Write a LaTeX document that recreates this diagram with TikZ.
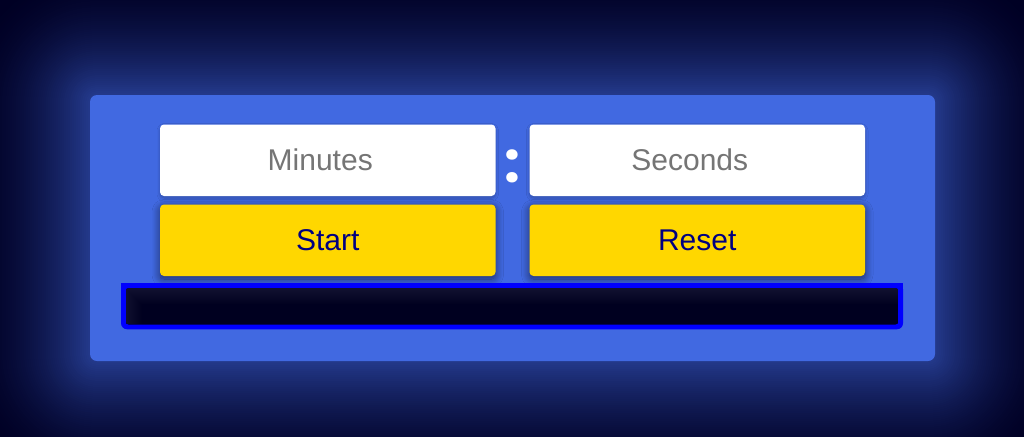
\documentclass[tikz,border=0pt]{standalone}
\usepackage{fontspec}
\setmainfont{Liberation Sans}
\newfontfamily\colonfont{Poppins}
\usetikzlibrary{shadows.blur}
\definecolor{bg}{RGB}{0,0,36}
\definecolor{royal}{RGB}{65,105,225}
\definecolor{gold}{RGB}{255,215,0}
\definecolor{navytext}{RGB}{0,0,128}
\definecolor{placeholder}{RGB}{117,117,117}
\definecolor{barblue}{RGB}{0,0,255}
\definecolor{barfill}{RGB}{0,0,32}
\begin{document}
\begin{tikzpicture}[x=1pt,y=-1pt,
  inputbox/.style={fill=white, rounded corners=4pt, minimum width=335.5pt, minimum height=71.5pt, inner sep=0pt,
     text=placeholder, font=\fontsize{30}{36}\selectfont,
     blur shadow={shadow blur steps=8, shadow xshift=0pt, shadow yshift=-2pt, shadow opacity=25, shadow blur radius=3pt}},
  buttonbox/.style={fill=gold, rounded corners=4pt, minimum width=335.5pt, minimum height=71.5pt, inner sep=0pt,
     text=navytext, font=\fontsize{30}{36}\selectfont,
     blur shadow={shadow blur steps=12, shadow xshift=0pt, shadow yshift=-3pt, shadow opacity=55, shadow blur radius=8pt}}]
\useasboundingbox (0,0) rectangle (1024,436);
\clip (0,0) rectangle (1024,436);
\fill[bg] (0,0) rectangle (1024,436);
% glow around panel
\foreach \d in {130,128,...,2} {
  \pgfmathsetmacro\f{55*(1-\d/130)^1.8}
  \pgfmathsetmacro\r{\d+7}
  \fill[royal!\f!bg, rounded corners=\r pt] (90-\d,95-\d) rectangle (935+\d,361+\d);
}
% panel
\node[fill=royal, rounded corners=7pt, minimum width=845pt, minimum height=266pt, inner sep=0pt] (panel) at (512.5,228) {};
% inputs
\node[inputbox, text width=335.5pt, align=center] (minutes) at (327.75,160.25) {\hspace*{-15pt}Minutes};
\node[inputbox, text width=335.5pt, align=center] (seconds) at (697.25,160.25) {\hspace*{-15pt}Seconds};
% buttons
\node[buttonbox] (start) at (327.75,240.25) {Start};
\node[buttonbox] (reset) at (697.25,240.25) {Reset};
% colon
\node[text=white, inner sep=0pt, font=\colonfont\bfseries\fontsize{56}{56}\selectfont] (colon) at (512.5,166) {:};
% display bar
\node[fill=barblue, rounded corners=6pt, minimum width=782pt, minimum height=46pt, inner sep=0pt] (display) at (512,306.25) {};
\fill[barblue] (display.north west) rectangle ([yshift=-12pt]display.north east);
\begin{scope}
  \clip[rounded corners=3pt] (125.5,288) rectangle (898.5,324.5);
  \fill[barfill] (125.5,280) rectangle (898.5,324.5);
  \foreach \k in {1,2,...,16} {
    \fill[white, opacity=0.009, even odd rule] (125.5,288) rectangle (898.5,324.5) (125.5+\k,288+\k) rectangle (920,340);
  }
\end{scope}
\end{tikzpicture}
\end{document}
